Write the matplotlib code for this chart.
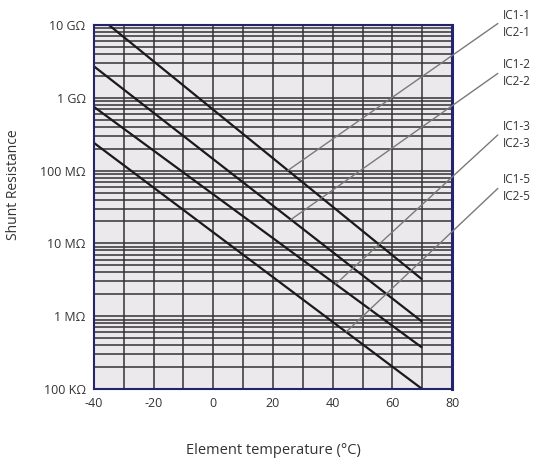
import numpy as np
import matplotlib
matplotlib.use("Agg")
import matplotlib.pyplot as plt

plt.rcParams['font.family'] = ['Open Sans', 'DejaVu Sans']

# curve end points (temperature in degC, resistance in ohm)
curve_names = ["IC1-1\nIC2-1", "IC1-2\nIC2-2", "IC1-3\nIC2-3", "IC1-5\nIC2-5"]
curve_temp = [[-35, 70], [-40, 70], [-40, 70], [-40, 70]]
curve_res = [[1e10, 3.2e6], [2.7e9, 8.4e5], [7.5e8, 3.7e5], [2.4e8, 1.0e5]]

# where each leader line touches its curve (degC)
leader_temp = [25, 26, 41, 44.5]
# label anchor heights (axes fraction)
label_y = [1.004, 0.867, 0.698, 0.551]

xticks = [-40, -20, 0, 20, 40, 60, 80]
yticks = [1e5, 1e6, 1e7, 1e8, 1e9, 1e10]
ytick_labels = ["100 KΩ", "1 MΩ", "10 MΩ", "100 MΩ", "1 GΩ", "10 GΩ"]

fig = plt.figure(figsize=(5.37, 4.61), dpi=100)
ax = fig.add_axes([94 / 537, 1 - 389 / 461, 358 / 537, 364 / 461])
ax.set_facecolor('#ece9ec')

ax.set_yscale('log')
ax.set_xlim(-40, 80)
ax.set_ylim(1e5, 1e10)

ax.set_xticks(xticks)
ax.set_xticklabels([str(t) for t in xticks])
ax.set_xticks(np.arange(-40, 81, 10), minor=True)
ax.set_yticks(yticks)
ax.set_yticklabels(ytick_labels)
ax.yaxis.set_minor_locator(matplotlib.ticker.LogLocator(base=10, subs=np.arange(2, 10)))
ax.yaxis.set_minor_formatter(matplotlib.ticker.NullFormatter())

ax.grid(True, which='both', color='#333333', linewidth=1.1)
ax.set_axisbelow(True)
ax.tick_params(which='both', length=0, labelsize=9, colors='#333333')
ax.tick_params(axis='y', pad=6)
ax.tick_params(axis='x', pad=6)

for side in ['left', 'bottom', 'top']:
    ax.spines[side].set_color('#23236e')
    ax.spines[side].set_linewidth(1.5)
ax.spines['right'].set_color('#23236e')
ax.spines['right'].set_linewidth(2.2)

for t, r in zip(curve_temp, curve_res):
    ax.plot(t, r, color='#1a1a1a', linewidth=1.6, solid_capstyle='butt')

for name, t, r, lt, ly in zip(curve_names, curve_temp, curve_res, leader_temp, label_y):
    lr = 10 ** np.interp(lt, t, np.log10(r))
    ax.annotate('', xy=(lt, lr), xycoords='data', xytext=(1.128, ly), textcoords='axes fraction',
                arrowprops=dict(arrowstyle='-', color='#7a7a7a', linewidth=1.0, shrinkA=0, shrinkB=0),
                annotation_clip=False)
    ax.text(1.143, ly, name, transform=ax.transAxes, fontsize=8.5, color='#333333',
            va='center', ha='left', linespacing=1.4)

ax.set_ylabel("Shunt Resistance", fontsize=10, color='#333333')
ax.yaxis.set_label_coords(-0.205, 0.56)
ax.set_xlabel("Element temperature (°C)", fontsize=10.5, color='#333333')
ax.xaxis.set_label_coords(0.5, -0.148)

fig.savefig("out.png", dpi=100)
